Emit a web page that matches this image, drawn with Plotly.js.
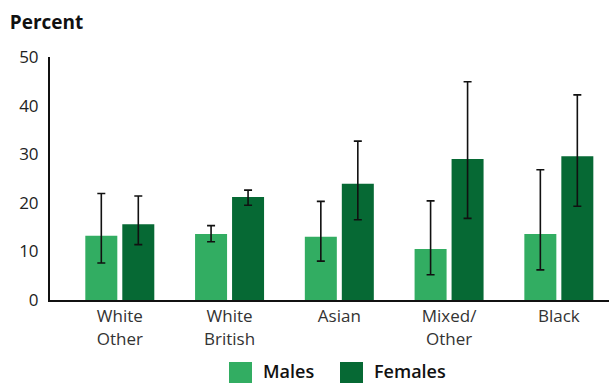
<!DOCTYPE html>
<html>
<head>
<meta charset="utf-8">
<script src="https://cdn.plot.ly/plotly-3.0.1.min.js"></script>
<style>
  html, body { margin: 0; padding: 0; background: #ffffff; }
  #chart { width: 609px; height: 383px; }
</style>
</head>
<body>
<div id="chart"></div>
<script>
// Ethnic groups shown along the x axis
const categories = ['White<br>Other', 'White<br>British', 'Asian', 'Mixed/<br>Other', 'Black'];

// Percentages by sex
const males   = [13.2, 13.6, 13.0, 10.5, 13.6];
const females = [15.6, 21.2, 23.9, 29.0, 29.6];

// Confidence interval bounds
const malesLower   = [7.6, 12.0, 8.0, 5.2, 6.2];
const malesUpper   = [21.9, 15.3, 20.3, 20.4, 26.8];
const femalesLower = [11.4, 19.5, 16.5, 16.8, 19.3];
const femalesUpper = [21.4, 22.6, 32.7, 44.9, 42.2];

const yTicks = [0, 10, 20, 30, 40, 50];

const lightGreen = '#32AD62';
const darkGreen  = '#066934';
const font = 'Open Sans, Noto Sans, sans-serif';

function errorBars(values, lower, upper) {
  return {
    type: 'data',
    symmetric: false,
    array: upper.map((u, i) => u - values[i]),
    arrayminus: lower.map((l, i) => values[i] - l),
    color: '#111111',
    thickness: 1.6,
    width: 4
  };
}

const traces = [
  {
    type: 'bar', name: 'Males', x: categories, y: males,
    marker: { color: lightGreen },
    error_y: errorBars(males, malesLower, malesUpper),
    showlegend: false, hoverinfo: 'y'
  },
  {
    type: 'bar', name: 'Females', x: categories, y: females,
    marker: { color: darkGreen },
    error_y: errorBars(females, femalesLower, femalesUpper),
    showlegend: false, hoverinfo: 'y'
  }
];

// Legend drawn as swatches with labels below the plot
const legendText = { family: font, size: 18, color: '#111111', weight: 600 };

const layout = {
  width: 609, height: 383,
  margin: { l: 50, r: 0, t: 57, b: 83 },
  paper_bgcolor: '#ffffff', plot_bgcolor: '#ffffff',
  barmode: 'group', bargap: 0.326, bargroupgap: 0.135,
  title: {
    text: 'Percent',
    font: { family: font, size: 19, color: '#111111', weight: 'bold' },
    xref: 'container', x: 0.016, xanchor: 'left',
    yref: 'container', y: 1 - 22 / 383, yanchor: 'middle'
  },
  xaxis: {
    type: 'category',
    range: [-0.636, 4.457],
    showline: true, linecolor: '#111111', linewidth: 2,
    ticks: '', showgrid: false, zeroline: false,
    tickfont: { family: font, size: 17, color: '#333333' }
  },
  yaxis: {
    range: [0, 50],
    tickvals: yTicks, ticktext: yTicks.map(String),
    showline: true, linecolor: '#111111', linewidth: 2,
    ticks: '', showgrid: false, zeroline: false,
    ticklabelstandoff: 6,
    tickfont: { family: font, size: 17, color: '#222222' }
  },
  shapes: [
    { type: 'rect', xref: 'paper', yref: 'paper',
      x0: 0.3202, x1: 0.3614, y0: -0.3416, y1: -0.2551,
      fillcolor: lightGreen, line: { width: 0 } },
    { type: 'rect', xref: 'paper', yref: 'paper',
      x0: 0.5188, x1: 0.5599, y0: -0.3416, y1: -0.2551,
      fillcolor: darkGreen, line: { width: 0 } }
  ],
  annotations: [
    { text: 'Males', xref: 'paper', yref: 'paper', x: 0.3792, y: -0.2922,
      xanchor: 'left', yanchor: 'middle', showarrow: false, borderpad: 0,
      font: legendText },
    { text: 'Females', xref: 'paper', yref: 'paper', x: 0.5778, y: -0.2922,
      xanchor: 'left', yanchor: 'middle', showarrow: false, borderpad: 0,
      font: legendText }
  ]
};

Plotly.newPlot('chart', traces, layout, { displayModeBar: false, staticPlot: true });
</script>
</body>
</html>
